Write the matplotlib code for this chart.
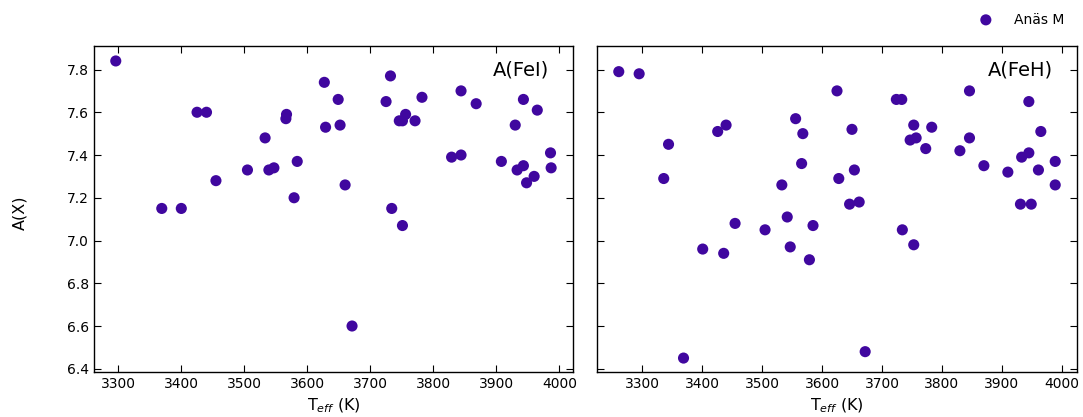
import matplotlib
matplotlib.use('Agg')
import matplotlib.pyplot as plt
import numpy as np

# left panel: A(FeI)
teff_fei = [3296, 3369, 3400, 3425, 3440, 3455, 3505, 3539, 3547, 3533,
            3567, 3566, 3584, 3579, 3627, 3629, 3649, 3652, 3660, 3732,
            3725, 3734, 3746, 3751, 3756, 3771, 3782, 3751, 3671, 3829,
            3844, 3844, 3868, 3908, 3930, 3933, 3943, 3943, 3948, 3960,
            3965, 3986, 3987]
a_fei = [7.84, 7.15, 7.15, 7.60, 7.60, 7.28, 7.33, 7.33, 7.34, 7.48,
         7.59, 7.57, 7.37, 7.20, 7.74, 7.53, 7.66, 7.54, 7.26, 7.77,
         7.65, 7.15, 7.56, 7.56, 7.59, 7.56, 7.67, 7.07, 6.60, 7.39,
         7.40, 7.70, 7.64, 7.37, 7.54, 7.33, 7.35, 7.66, 7.27, 7.30,
         7.61, 7.41, 7.34]

# right panel: A(FeH)
teff_feh = [3261, 3295, 3344, 3336, 3426, 3440, 3556, 3568, 3566, 3533,
            3542, 3455, 3625, 3628, 3505, 3585, 3401, 3436, 3547, 3579,
            3369, 3650, 3654, 3646, 3662, 3724, 3733, 3753, 3747, 3757,
            3783, 3773, 3830, 3846, 3846, 3870, 3910, 3933, 3945, 3945,
            3965, 3961, 3989, 3989, 3931, 3949, 3734, 3753, 3672]
a_feh = [7.79, 7.78, 7.45, 7.29, 7.51, 7.54, 7.57, 7.50, 7.36, 7.26,
         7.11, 7.08, 7.70, 7.29, 7.05, 7.07, 6.96, 6.94, 6.97, 6.91,
         6.45, 7.52, 7.33, 7.17, 7.18, 7.66, 7.66, 7.54, 7.47, 7.48,
         7.53, 7.43, 7.42, 7.48, 7.70, 7.35, 7.32, 7.39, 7.41, 7.65,
         7.51, 7.33, 7.37, 7.26, 7.17, 7.17, 7.05, 6.98, 6.48]

color = '#40079f'
label = 'Anäs M'

fig = plt.figure(figsize=(10.83, 4.17), dpi=100)
ax1 = fig.add_axes([0.0868, 0.108, 0.4422, 0.7817])
ax2 = fig.add_axes([0.5512, 0.108, 0.4433, 0.7817], sharey=ax1)

ax1.scatter(teff_fei, a_fei, s=64, color=color, edgecolors='none', label=label, zorder=3)
ax2.scatter(teff_feh, a_feh, s=64, color=color, edgecolors='none', zorder=3)

for ax, name in [(ax1, 'A(FeI)'), (ax2, 'A(FeH)')]:
    ax.tick_params(direction='in', top=True, right=True, labelsize=10, length=5)
    ax.set_xlabel(r'T$_{eff}$ (K)', fontsize=11.5)
    ax.set_xticks(np.arange(3300, 4001, 100))
    ax.text(0.95, 0.955, name, transform=ax.transAxes, ha='right', va='top', fontsize=14)
    for sp in ax.spines.values():
        sp.set_linewidth(1.0)

ax1.set_yticks(np.arange(6.4, 7.81, 0.2))
ax1.set_yticklabels(['%.1f' % v for v in np.arange(6.4, 7.81, 0.2)])
ax2.tick_params(labelleft=False)
ax1.set_ylim(6.385, 7.91)

fig.text(0.018, 0.49, 'A(X)', rotation=90, va='center', ha='center', fontsize=11.5)

fig.legend(loc='upper right', bbox_to_anchor=(0.994, 1.0), frameon=False,
           fontsize=10, handletextpad=1.0)

fig.savefig('out.png', dpi=100)
